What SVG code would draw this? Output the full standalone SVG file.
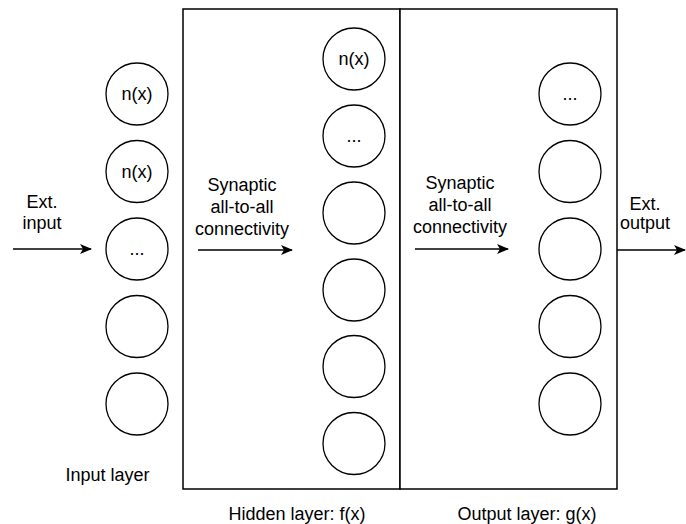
<svg xmlns="http://www.w3.org/2000/svg" width="686" height="524" viewBox="0 0 686 524">
  <style>
    .layer { fill: #ffffff; stroke: #000000; stroke-width: 1.5; }
    .neuron { fill: #ffffff; stroke: #000000; stroke-width: 1.3; }
    .label { font-family: "Liberation Sans", Arial, Helvetica, sans-serif; font-size: 18px; fill: #000000; text-anchor: middle; }
    .edge { fill: none; stroke: #000000; stroke-width: 1.5; }
  </style>
  <defs>
    <marker id="arrow" viewBox="0 0 12 10" refX="11" refY="5" markerWidth="12" markerHeight="10" markerUnits="userSpaceOnUse" orient="auto">
      <path d="M0,0 L12,5 L0,10 L3,5 Z" fill="#000000"/>
    </marker>
  </defs>

  <rect width="686" height="524" fill="#ffffff"/>

  <!-- layer frames -->
  <g id="hidden-layer">
    <rect class="layer" x="183" y="9" width="217" height="480"/>
    <text class="label" x="297" y="520">Hidden layer: f(x)</text>
  </g>
  <g id="output-layer">
    <rect class="layer" x="400" y="9" width="217" height="480"/>
    <text class="label" x="527" y="520">Output layer: g(x)</text>
  </g>
  <g id="input-layer">
    <text class="label" x="107.5" y="481">Input layer</text>
  </g>

  <!-- input neurons -->
  <g id="in1"><circle class="neuron" cx="137" cy="94" r="31"/><text class="label" x="137" y="100">n(x)</text></g>
  <g id="in2"><circle class="neuron" cx="137" cy="171.5" r="31"/><text class="label" x="137" y="177.5">n(x)</text></g>
  <g id="in3"><circle class="neuron" cx="137" cy="249" r="31"/><text class="label" x="137" y="255">...</text></g>
  <g id="in4"><circle class="neuron" cx="137" cy="326.5" r="31"/></g>
  <g id="in5"><circle class="neuron" cx="137" cy="404" r="31"/></g>

  <!-- hidden neurons -->
  <g id="h1"><circle class="neuron" cx="354" cy="59" r="31"/><text class="label" x="354" y="65">n(x)</text></g>
  <g id="h2"><circle class="neuron" cx="354" cy="136" r="31"/><text class="label" x="354" y="142">...</text></g>
  <g id="h3"><circle class="neuron" cx="354" cy="213" r="31"/></g>
  <g id="h4"><circle class="neuron" cx="354" cy="290" r="31"/></g>
  <g id="h5"><circle class="neuron" cx="354" cy="366.5" r="31"/></g>
  <g id="h6"><circle class="neuron" cx="354" cy="443.5" r="31"/></g>

  <!-- output neurons -->
  <g id="o1"><circle class="neuron" cx="570" cy="94" r="31"/><text class="label" x="570" y="100">...</text></g>
  <g id="o2"><circle class="neuron" cx="570" cy="171.5" r="31"/></g>
  <g id="o3"><circle class="neuron" cx="570" cy="249" r="31"/></g>
  <g id="o4"><circle class="neuron" cx="570" cy="326.5" r="31"/></g>
  <g id="o5"><circle class="neuron" cx="570" cy="404" r="31"/></g>

  <!-- connectors -->
  <g id="connectors">
    <line class="edge" x1="13" y1="249" x2="91" y2="249" marker-end="url(#arrow)"/>
    <text class="label" x="42"><tspan x="42" y="208">Ext.</tspan><tspan x="42" y="229">input</tspan></text>

    <line class="edge" x1="198" y1="250" x2="292" y2="250" marker-end="url(#arrow)"/>
    <text class="label"><tspan x="242" y="191">Synaptic</tspan><tspan x="242" y="213">all-to-all</tspan><tspan x="242" y="235">connectivity</tspan></text>

    <line class="edge" x1="415" y1="249" x2="508" y2="249" marker-end="url(#arrow)"/>
    <text class="label"><tspan x="460" y="189">Synaptic</tspan><tspan x="460" y="211">all-to-all</tspan><tspan x="460" y="233">connectivity</tspan></text>

    <line class="edge" x1="617" y1="250" x2="685" y2="250" marker-end="url(#arrow)"/>
    <text class="label"><tspan x="645" y="210">Ext.</tspan><tspan x="645" y="229">output</tspan></text>
  </g>
</svg>
